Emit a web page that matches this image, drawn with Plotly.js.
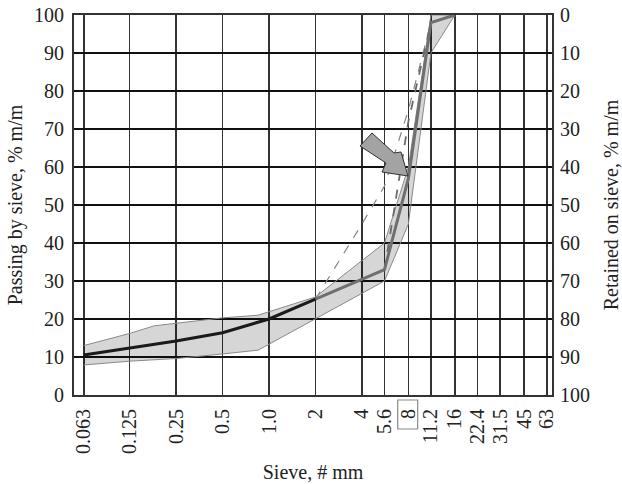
<!DOCTYPE html>
<html>
<head>
<meta charset="utf-8">
<script src="https://cdn.plot.ly/plotly-3.0.1.min.js"></script>
<style>html,body{margin:0;padding:0;background:#fff;}#chart{width:622px;height:484px;}</style>
</head>
<body>
<div id="chart"></div>
<script>
// Sieve axis ticks
const sieveTicks = [0.063, 0.125, 0.25, 0.5, 1, 2, 4, 5.6, 8, 11.2, 16, 22.4, 31.5, 45, 63];
const sieveTickText = ['0.063', '0.125', '0.25', '0.5', '1.0', '2', '4', '5.6', '8', '11.2', '16', '22.4', '31.5', '45', '63'];
const passingTicks = [0, 10, 20, 30, 40, 50, 60, 70, 80, 90, 100];
const retainedTicks = [0, 10, 20, 30, 40, 50, 60, 70, 80, 90, 100];

// Grading envelope (upper and lower limits), % passing
const upperX = [0.063, 0.125, 0.18, 0.25, 0.5, 0.85, 2, 5.6, 8, 11.2, 16];
const upperY = [13, 16.2, 18.2, 18.9, 20.3, 21, 25.8, 40, 60, 100, 100];
const lowerX = [0.063, 0.125, 0.25, 0.5, 0.85, 2, 5.6, 8, 11.2, 16];
const lowerY = [7.9, 8.9, 9.6, 10.8, 11.8, 20, 30, 45, 90, 100];

// Fine part of the mix (black)
const fineX = [0.063, 0.125, 0.25, 0.5, 1, 2];
const fineY = [10.5, 12.4, 14.2, 16.4, 20, 25.2];

// Coarse part of the mix (grey)
const mixX = [2, 4, 5.6, 8, 11.2, 16];
const mixY = [25.2, 30.5, 33, 57, 98, 100];

// Dashed curves
const dashAX = [2, 4, 5.6, 8, 11.2];
const dashAY = [25.2, 45, 55, 75, 98];
const dashBX = [5.6, 8, 11.2];
const dashBY = [33, 72, 98];

const bandX = upperX.concat(lowerX.slice().reverse());
const bandY = upperY.concat(lowerY.slice().reverse());

const traces = [
  {x: bandX, y: bandY, type: 'scatter', mode: 'lines', fill: 'toself',
   fillcolor: 'rgba(0,0,0,0.16)', line: {color: '#8a8a8a', width: 1}, hoverinfo: 'skip', showlegend: false},
  {x: dashAX, y: dashAY, type: 'scatter', mode: 'lines',
   line: {color: '#858585', width: 1.2, dash: 'dash'}, showlegend: false},
  {x: dashBX, y: dashBY, type: 'scatter', mode: 'lines',
   line: {color: '#6a6a6a', width: 1.8, dash: 'dash'}, showlegend: false},
  {x: mixX, y: mixY, type: 'scatter', mode: 'lines',
   line: {color: '#6f6f6f', width: 3}, showlegend: false},
  {x: fineX, y: fineY, type: 'scatter', mode: 'lines',
   line: {color: '#1a1a1a', width: 3}, showlegend: false},
  {x: [], y: [], yaxis: 'y2', type: 'scatter', mode: 'lines', showlegend: false}
];

const fnt = {family: 'Liberation Serif, Times New Roman, serif', size: 20, color: '#222'};
const tfnt = {family: 'Liberation Serif, Times New Roman, serif', size: 20, color: '#222'};

const layout = {
  width: 622, height: 484,
  margin: {l: 74, r: 70, t: 15, b: 89, pad: 0},
  paper_bgcolor: '#fff', plot_bgcolor: '#fff',
  font: fnt,
  showlegend: false,
  xaxis: {
    type: 'log',
    range: [-1.2636, 1.8336],
    tickmode: 'array', tickvals: sieveTicks, ticktext: sieveTickText,
    tickangle: -90, tickfont: fnt, ticks: '', ticklabelstandoff: 4,
    showgrid: true, gridcolor: '#333', gridwidth: 1.6,
    showline: true, mirror: true, linecolor: '#333', linewidth: 2,
    zeroline: false, automargin: false,
    title: {text: 'Sieve, # mm', font: tfnt, standoff: 12}
  },
  yaxis: {
    range: [0, 100],
    tickmode: 'array', tickvals: passingTicks,
    tickfont: fnt, ticks: '', ticklabelstandoff: 4,
    showgrid: true, gridcolor: '#111', gridwidth: 2.2,
    showline: true, mirror: true, linecolor: '#333', linewidth: 2,
    zeroline: false, automargin: false,
    title: {text: 'Passing by sieve, % m/m', font: tfnt, standoff: 6}
  },
  yaxis2: {
    overlaying: 'y', side: 'right', anchor: 'x',
    range: [100, 0],
    tickmode: 'array', tickvals: retainedTicks,
    tickfont: fnt, ticks: '', ticklabelstandoff: 7,
    showgrid: false, zeroline: false, showline: false, automargin: false,
    title: {text: 'Retained on sieve, % m/m', font: tfnt, standoff: 15}
  },
  shapes: [
    {type: 'rect', xref: 'paper', yref: 'paper',
     x0: 0.6772, x1: 0.7190, y0: -0.0895, y1: -0.0132,
     line: {color: '#8a8a8a', width: 1.2}, fillcolor: 'rgba(0,0,0,0)'},
    {type: 'path', xref: 'paper', yref: 'paper',
     path: 'M 0.6234 0.6895 L 0.6695 0.6368 L 0.6841 0.6395 L 0.6987 0.5763 L 0.6444 0.5868 L 0.6527 0.6105 L 0.5983 0.6553 Z',
     fillcolor: '#a3a3a3', line: {color: '#333', width: 1}, layer: 'above'}
  ]
};

Plotly.newPlot('chart', traces, layout, {staticPlot: true, displayModeBar: false});
</script>
</body>
</html>
